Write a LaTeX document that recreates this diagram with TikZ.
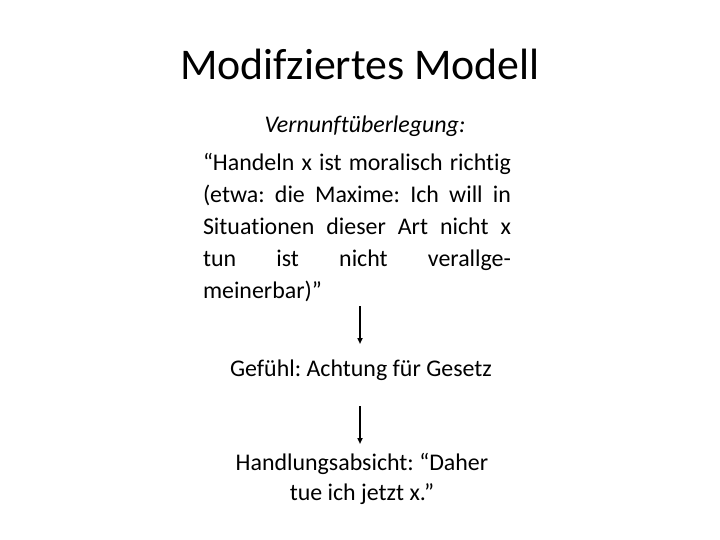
\documentclass[tikz,border=0pt]{standalone}
\usepackage{fontspec}
\setmainfont{Carlito}[Ligatures=NoCommon]
\usetikzlibrary{arrows.meta}
\begin{document}
\frenchspacing
\begin{tikzpicture}[x=1bp,y=-1bp,
  txt/.style={inner sep=0pt,outer sep=0pt,font=\fontsize{24}{32}\selectfont},
  flow/.style={line width=1.6bp,-{Triangle[length=6bp,width=5bp]}}]
\useasboundingbox[fill=white] (0,0) rectangle (720,540);
\node[inner sep=0pt,anchor=base,font=\fontsize{44}{50}\selectfont] (title) at (360,80) {Modifziertes Modell};
\node[txt,anchor=base,font=\fontsize{24}{32}\selectfont\itshape] (vern) at (365,133) {Vernunftüberlegung:};
\node[txt,anchor=base west,text width=308bp,align=left] (body) at (203,171) {%
\makebox[\linewidth][s]{“Handeln\hfill x\hfill ist\hfill moralisch\hfill richtig}\\
\makebox[\linewidth][s]{(etwa:\hfill die\hfill Maxime:\hfill Ich\hfill will\hfill in}\\
\makebox[\linewidth][s]{Situationen\hfill dieser\hfill Art\hfill nicht\hfill x}\\
\makebox[\linewidth][s]{tun\hfill ist\hfill nicht\hfill verallge-}\\
meinerbar)”};
\coordinate (a1s) at (360,306);
\coordinate (a1e) at (360,344);
\draw[flow] (a1s) -- (a1e);
\node[txt,anchor=base] (gef) at (361,376) {Gefühl: Achtung für Gesetz};
\coordinate (a2s) at (360,406);
\coordinate (a2e) at (360,444);
\draw[flow] (a2s) -- (a2e);
\node[txt,anchor=base,align=center,font=\fontsize{24}{30}\selectfont] (hand) at (362,500) {Handlungsabsicht: “Daher\\tue ich jetzt x.”};
\end{tikzpicture}
\end{document}
